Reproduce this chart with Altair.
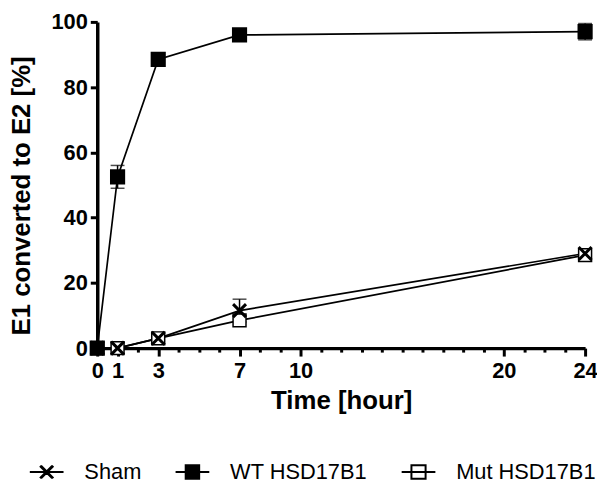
import altair as alt
import pandas as pd

series_names = ["Sham", "WT HSD17B1", "Mut HSD17B1"]
times = [0, 1, 3, 7, 24]
sham = [0, 0, 3, 11.5, 29]
sham_err = [0, 0, 0, 3.5, 0]
wt = [0, 52.5, 88.5, 96, 97]
wt_err = [0, 3.5, 0, 0, 2.5]
mut = [0, 0, 3, 8.5, 28.5]
mut_err = [0, 0, 0, 0, 0]
draw_order = [2, 1, 0]

x_major = [0, 1, 3, 7, 10, 20, 24]
x_minor = list(range(0, 25))
y_ticks = [0, 20, 40, 60, 80, 100]

rows = []
for name, vals, errs, z in zip(series_names, [sham, wt, mut], [sham_err, wt_err, mut_err], draw_order):
    for t, v, e in zip(times, vals, errs):
        rows.append(dict(series=name, time=t, value=v, err=e, lo=v - e, hi=v + e, z=z))
df = pd.DataFrame(rows)

FONT = "Liberation Sans"
xscale = alt.Scale(domain=[0, 24], nice=False, zero=False)
yscale = alt.Scale(domain=[0, 100], nice=False)

major_test = "indexof(" + str(x_major) + ", datum.value) >= 0"

x_axis = alt.Axis(values=x_minor, orient="bottom",
                  tickSize={"condition": {"test": major_test, "value": 8}, "value": 4},
                  labelExpr=major_test + " ? datum.label : ''",
                  labelPadding=5, title="Time [hour]",
                  titleY=61, titleBaseline="alphabetic",
                  labelFlush=False, labelOverlap=False)
y_axis = alt.Axis(values=y_ticks, orient="left", tickSize=7, labelPadding=3, title="E1 converted to E2 [%]",
                  titleX=-68, titleY=175, titleBaseline="alphabetic", titleAngle=270,
                  labelFlush=False, labelOverlap=False)

plot_cross = "M-1,-1L1,1M-1,1L1,-1"
leg_cross = "M-1,0H1" + "".join(
    "M%.2f,-0.36L%.2f,0.36M%.2f,0.36L%.2f,-0.36" % (-0.36 + d, 0.36 + d, -0.36 + d, 0.36 + d)
    for d in (-0.04, 0, 0.04))
leg_open = "M-1,0H1M-0.42,-0.4H0.42V0.4H-0.42Z"
hatch = "".join("M-0.4,%.2fH0.4" % (i * 0.066 - 0.4) for i in range(13))
leg_filled = "M-1,0H1M-0.4,-0.4H0.4V0.4H-0.4Z" + hatch

base = alt.Chart(df)
X = lambda: alt.X("time:Q", scale=xscale, axis=x_axis)

line = base.mark_line(color="black", strokeWidth=1.7).encode(
    x=X(),
    y=alt.Y("value:Q", scale=yscale, axis=y_axis),
    detail="series:N",
)

bars = base.transform_filter("datum.err > 0").mark_rule(color="black", strokeWidth=1.5).encode(
    x=X(),
    y=alt.Y("lo:Q", scale=yscale, axis=y_axis),
    y2="hi:Q",
)

cap_lo = base.transform_filter("datum.err > 0").mark_tick(
    orient="horizontal", size=14, thickness=1.5, color="black").encode(
    x=X(),
    y=alt.Y("lo:Q", scale=yscale, axis=y_axis),
)
cap_hi = base.transform_filter("datum.err > 0").mark_tick(
    orient="horizontal", size=14, thickness=1.5, color="black").encode(
    x=X(),
    y=alt.Y("hi:Q", scale=yscale, axis=y_axis),
)

points = base.mark_point(filled=True, stroke="black", size=170, opacity=1).encode(
    x=X(),
    y=alt.Y("value:Q", scale=yscale, axis=y_axis),
    shape=alt.Shape("series:N", scale=alt.Scale(domain=series_names, range=[plot_cross, "square", "square"]), legend=None),
    fill=alt.Fill("series:N", scale=alt.Scale(domain=series_names, range=["black", "black", "white"]), legend=None),
    strokeWidth=alt.StrokeWidth("series:N", scale=alt.Scale(domain=series_names, range=[3, 1.5, 1.5]), legend=None),
    order=alt.Order("z:Q"),
)

leg = alt.Legend(orient="none", legendX=-69, legendY=436, direction="horizontal", title=None,
                 symbolSize=1156, symbolStrokeWidth=2, symbolStrokeColor="black", symbolOpacity=1,
                 labelFont=FONT, labelFontSize=22, labelColor="black", labelOffset=20,
                 columnPadding=30, padding=0, labelLimit=400)

legend_layer = base.mark_point(filled=False, opacity=0).encode(
    x=X(),
    y=alt.Y("value:Q", scale=yscale, axis=y_axis),
    shape=alt.Shape("series:N", scale=alt.Scale(domain=series_names, range=[leg_cross, leg_filled, leg_open]), legend=leg),
)

chart = alt.layer(line, bars, cap_lo, cap_hi, points, legend_layer).resolve_scale(
    shape="independent"
).properties(
    width=492, height=329,
    padding={"left": 90, "top": 12, "right": 12, "bottom": 134},
    autosize=alt.AutoSizeParams(type="none"),
).configure_view(stroke=None).configure_axis(
    domainColor="black", domainWidth=3.5, tickColor="black", tickWidth=3, grid=False,
    labelFont=FONT, labelFontWeight="bold", labelFontSize=22, labelColor="black",
    titleFont=FONT, titleFontWeight="bold", titleFontSize=26, titleColor="black",
)

chart.save("out.html", embed_options={"renderer": "svg", "actions": False})
